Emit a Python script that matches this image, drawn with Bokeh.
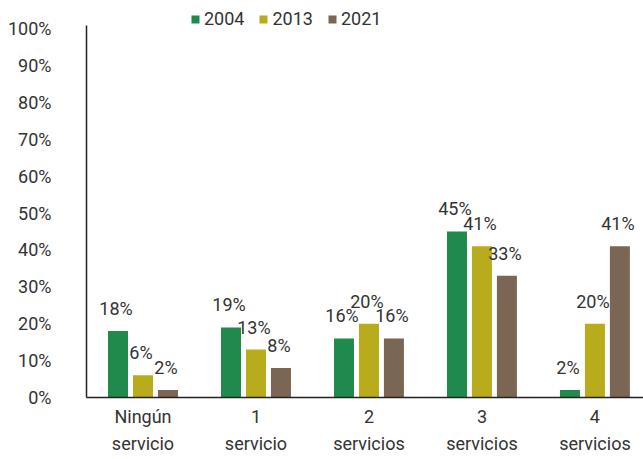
from bokeh.plotting import figure
from bokeh.models import ColumnDataSource, Legend, LegendItem, Range1d, FixedTicker, LabelSet
from bokeh.core.properties import value
from bokeh.embed import file_html
from bokeh.resources import INLINE

categories = ["Ningún\nservicio", "1\nservicio", "2\nservicios", "3\nservicios", "4\nservicios"]
years = ["2004", "2013", "2021"]
v2004 = [18, 19, 16, 45, 2]
v2013 = [6, 13, 20, 41, 20]
v2021 = [2, 8, 16, 33, 41]
colors = ["#1f8a4c", "#b8ab1c", "#7b6553"]
offsets = [-0.221, 0.0, 0.221]

FONT = "Roboto"
TXT = "#333333"

p = figure(width=643, height=459, output_backend="svg", toolbar_location=None,
           x_range=Range1d(0, 4.93), y_range=Range1d(0, 107.6),
           min_border_left=86, min_border_right=0, min_border_top=0, min_border_bottom=62)
p.outline_line_color = None
p.background_fill_color = "white"
p.border_fill_color = "white"
p.xgrid.visible = False
p.ygrid.visible = False

xs = [i + 0.5 for i in range(len(categories))]
renderers = []
for vals, col, off, yr in zip([v2004, v2013, v2021], colors, offsets, years):
    src = ColumnDataSource(dict(x=[x + off for x in xs], top=vals,
                                lab=[f"{v}%" for v in vals]))
    r = p.vbar(x="x", top="top", width=0.177, bottom=0, source=src,
               fill_color=col, line_color=None)
    renderers.append((yr, r))
    lbl = LabelSet(x="x", y="top", text="lab", source=src, x_offset=-2, y_offset=16,
                   text_align="center", text_baseline="alphabetic",
                   text_font=value(FONT), text_font_size="18px", text_color=TXT)
    p.add_layout(lbl)

# axes
p.yaxis.ticker = FixedTicker(ticks=list(range(0, 101, 10)))
p.yaxis.major_label_overrides = {t: f"{t}%" for t in range(0, 101, 10)}
p.yaxis.bounds = (0, 100.8)
p.yaxis.major_tick_line_color = None
p.yaxis.minor_tick_line_color = None
p.yaxis.major_tick_out = 0
p.yaxis.major_tick_in = 0
p.yaxis.major_label_standoff = 35
p.yaxis.axis_line_color = "#222222"
p.yaxis.axis_line_width = 1.5
p.yaxis.major_label_text_font = FONT
p.yaxis.major_label_text_font_size = "18px"
p.yaxis.major_label_text_color = TXT

p.xaxis.ticker = FixedTicker(ticks=xs)
p.xaxis.major_label_overrides = {x: c for x, c in zip(xs, categories)}
p.xaxis.major_tick_line_color = None
p.xaxis.minor_tick_line_color = None
p.xaxis.major_tick_out = 0
p.xaxis.major_tick_in = 0
p.xaxis.major_label_standoff = 8
p.xaxis.axis_line_color = "#222222"
p.xaxis.axis_line_width = 1.5
p.xaxis.major_label_text_font = FONT
p.xaxis.major_label_text_font_size = "18px"
p.xaxis.major_label_text_color = TXT
p.xaxis.major_label_text_line_height = 1.3

legend = Legend(items=[LegendItem(label=yr, renderers=[r]) for yr, r in renderers],
                orientation="horizontal", location=(104, 368),
                glyph_width=10, glyph_height=10, label_standoff=4, spacing=14,
                label_text_font=FONT, label_text_font_size="18px", label_text_color=TXT,
                background_fill_alpha=0, border_line_color=None, padding=0, margin=0)
p.add_layout(legend, "center")

open("out.html", "w").write(file_html(p, INLINE))
